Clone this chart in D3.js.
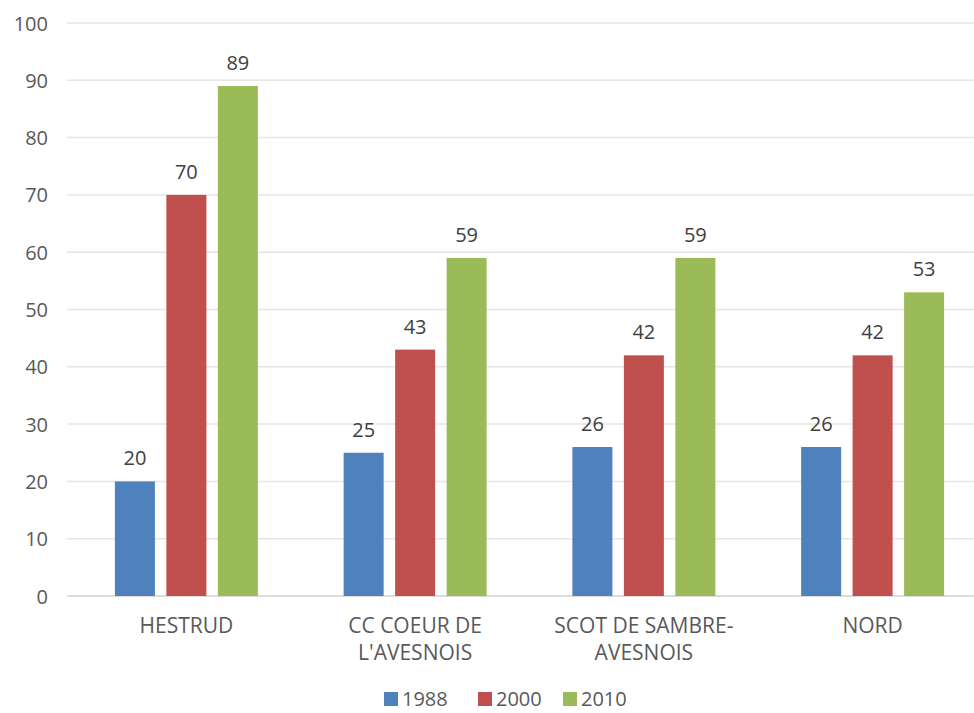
<!DOCTYPE html>
<html>
<head>
<meta charset="utf-8">
<script src="https://cdn.jsdelivr.net/npm/d3@7/dist/d3.min.js"></script>
<style>
  html, body { margin: 0; padding: 0; background: #fff; }
  svg { display: block; font-family: "Open Sans", "Noto Sans", sans-serif; }
</style>
</head>
<body>
<svg id="chart" width="974" height="713"></svg>
<script>
// Territories along the x axis (line breaks as shown under each group)
const categories = ["HESTRUD", "CC COEUR DE L'AVESNOIS", "SCOT DE SAMBRE-AVESNOIS", "NORD"];
const categoryLines = [["HESTRUD"], ["CC COEUR DE", "L'AVESNOIS"], ["SCOT DE SAMBRE-", "AVESNOIS"], ["NORD"]];
const years = ["1988", "2000", "2010"];
const values1988 = [20, 25, 26, 26];
const values2000 = [70, 43, 42, 42];
const values2010 = [89, 59, 59, 53];
const yTicks = [0, 10, 20, 30, 40, 50, 60, 70, 80, 90, 100];
const colors = ["#4f81bd", "#c0504d", "#9bbb59"];

const series = [values1988, values2000, values2010];
const rows = categories.map((c, i) => ({ cat: c, vals: series.map(s => s[i]) }));

const svg = d3.select("#chart");
const W = 974, H = 713;
const plotLeft = 72, plotRight = 987, plotTop = 23, plotBottom = 596;

const y = d3.scaleLinear().domain([0, 100]).range([plotBottom, plotTop]);
const x0 = d3.scaleBand().domain(categories).range([plotLeft, plotRight])
  .paddingInner(0.375).paddingOuter(0.1875);
const x1 = d3.scaleBand().domain(years).range([0, x0.bandwidth()]).paddingInner(0.223).paddingOuter(0);

// horizontal grid lines
svg.append("g").selectAll("line").data(yTicks).join("line")
  .attr("x1", 67).attr("x2", W)
  .attr("y1", d => y(d)).attr("y2", d => y(d))
  .attr("stroke", d => d === 0 ? "#d0d0d0" : "#e6e6e6").attr("stroke-width", 1.5);

// y axis labels
const yAxis = d3.axisLeft(y).tickValues(yTicks).tickSize(0).tickPadding(0);
const ya = svg.append("g").attr("transform", "translate(48,0)").call(yAxis);
ya.select(".domain").remove();
ya.selectAll("text").attr("font-size", 20).attr("fill", "#595959")
  .attr("font-family", "'Open Sans', sans-serif").attr("dy", "0.35em");

// bars
const groups = svg.append("g").selectAll("g").data(rows).join("g")
  .attr("transform", d => `translate(${x0(d.cat)},0)`);
groups.selectAll("rect").data(d => d.vals.map((v, k) => ({ v, k }))).join("rect")
  .attr("x", d => x1(years[d.k]))
  .attr("width", x1.bandwidth())
  .attr("y", d => y(d.v))
  .attr("height", d => plotBottom - y(d.v))
  .attr("fill", d => colors[d.k]);

// value labels
groups.selectAll("text.val").data(d => d.vals.map((v, k) => ({ v, k }))).join("text")
  .attr("class", "val")
  .attr("x", d => x1(years[d.k]) + x1.bandwidth() / 2)
  .attr("y", d => y(d.v) - 16)
  .attr("text-anchor", "middle")
  .attr("font-size", 20).attr("fill", "#404040")
  .text(d => d3.format("d")(d.v));

// category labels
const xa = svg.append("g");
categories.forEach((c, i) => {
  const cx = x0(c) + x0.bandwidth() / 2;
  const t = xa.append("text")
    .attr("x", cx)
    .attr("y", 633)
    .attr("text-anchor", "middle")
    .attr("font-size", 21).attr("fill", "#595959");
  categoryLines[i].forEach((ln, j) => {
    t.append("tspan").attr("x", cx).attr("dy", j === 0 ? 0 : 27).text(ln);
  });
});

// legend
const legendX = [384, 478, 563];
const lg = svg.append("g").selectAll("g").data(years).join("g")
  .attr("transform", (d, i) => `translate(${legendX[i]},699)`);
lg.append("rect").attr("x", 0).attr("y", -7).attr("width", 14).attr("height", 14)
  .attr("fill", (d, i) => colors[i]);
lg.append("text").attr("x", 18).attr("y", 0).attr("dy", "0.35em")
  .attr("font-size", 20).attr("fill", "#595959").text(d => d);
</script>
</body>
</html>
